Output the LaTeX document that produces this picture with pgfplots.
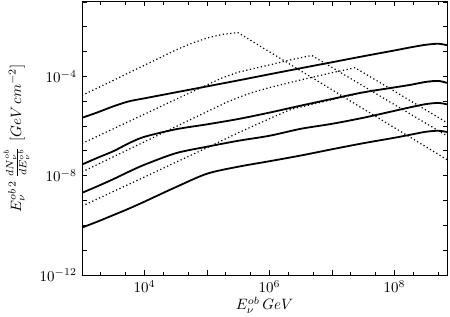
\documentclass[border=0pt]{standalone}
\usepackage{pgfplots}
\pgfplotsset{compat=1.18}
\usetikzlibrary{calc}
\pgfplotsset{
  solidc/.style={black, line width=1.2pt, no markers},
  dotc/.style={black, line width=0.8pt, dash pattern=on 0.8pt off 1.7pt, no markers}
}
\begin{document}
\begin{tikzpicture}
\begin{axis}[
  name=ax,
  scale only axis,
  width=243.3pt, height=182pt,
  xmode=log, ymode=log,
  xmin=1e3, xmax=6.918e8,
  ymin=1e-12, ymax=1e-1,
  xtick={1e3,1e4,1e5,1e6,1e7,1e8},
  xticklabels={,$10^{4}$,,$10^{6}$,,$10^{8}$},
  minor xtick={2e3,5e3,2e4,5e4,2e5,5e5,2e6,5e6,2e7,5e7,2e8,5e8},
  ytick={1e-12,1e-11,1e-10,1e-9,1e-8,1e-7,1e-6,1e-5,1e-4,1e-3,1e-2,1e-1},
  yticklabels={$10^{-12}$,,,,$10^{-8}$,,,,$10^{-4}$,,,},
  minor y tick style={draw=none},
  major tick length=3pt, minor tick length=1.8pt,
  tick style={black, line width=0.5pt},
  axis line style={line width=0.6pt},
  xlabel={$E_{\nu}^{ob}\,GeV$},
  xlabel style={yshift=4pt},
  ylabel={$E_{\nu}^{ob\,2}\,\frac{dN_{\nu}^{ob}}{dE_{\nu}^{ob}}\ [GeV\,cm^{-2}]$},
]
% dotted curves
\addplot[dotc] coordinates {(1e3,1.72e-5) (1.778e3,3.45e-5) (3.162e3,6.90e-5) (5.623e3,1.41e-4) (1e4,2.82e-4) (3.162e4,1.16e-3) (5.35e4,2.03e-3) (1e5,3.53e-3) (1.74e5,4.88e-3) (3.10e5,5.87e-3) (5.45e5,2.48e-3) (1e6,9.75e-4) (3.162e6,1.68e-4) (1e7,2.89e-5) (3.162e7,4.93e-6) (1e8,8.51e-7) (3.162e8,1.47e-7) (6.918e8,4.44e-8)};
\addplot[dotc] coordinates {(1e3,1.97e-7) (3.162e3,7.74e-7) (1e4,3.02e-6) (3.162e4,1.19e-5) (1e5,4.55e-5) (1.74e5,8.71e-5) (3.162e5,1.48e-4) (1e6,2.90e-4) (2.13e6,4.60e-4) (4.73e6,6.98e-4) (1e7,2.30e-4) (3.162e7,4.07e-5) (1e8,7.28e-6) (3.162e8,1.30e-6) (6.918e8,4.06e-7)};
\addplot[dotc] coordinates {(1e3,1.42e-8) (3.162e3,5.75e-8) (1e4,2.33e-7) (3.162e4,9.42e-7) (1e5,3.81e-6) (1.94e5,8.45e-6) (3.37e5,1.50e-5) (5.86e5,2.43e-5) (1e6,3.55e-5) (3.162e6,7.23e-5) (1e7,1.41e-4) (2.33e7,2.24e-4) (3.162e7,1.42e-4) (1e8,2.52e-5) (3.162e8,4.46e-6) (6.918e8,1.36e-6)};
\addplot[dotc] coordinates {(1e3,5.94e-10) (3.162e3,2.30e-9) (1e4,8.87e-9) (3.162e4,3.46e-8) (1e5,1.34e-7) (3.162e5,5.36e-7) (1e6,1.99e-6) (2.26e6,4.80e-6) (4.45e6,7.14e-6) (1e7,1.16e-5) (3.162e7,2.25e-5) (1e8,3.57e-5) (1.778e8,4.50e-5) (3.162e8,5.95e-5) (5.012e8,6.50e-5) (6.918e8,5.42e-5)};
% solid curves
\addplot[solidc, smooth] coordinates {(1e3,2.15e-6) (1.778e3,3.57e-6) (3.162e3,6.22e-6) (5.623e3,9.89e-6) (1e4,1.31e-5) (3.162e4,2.28e-5) (1e5,3.96e-5) (3.162e5,6.90e-5) (1e6,1.22e-4) (3.162e6,2.14e-4) (1e7,3.72e-4) (3.162e7,6.49e-4) (1e8,1.11e-3) (1.778e8,1.47e-3) (3.162e8,1.88e-3) (5.012e8,2.07e-3) (6.918e8,1.81e-3)};
\addplot[solidc, smooth] coordinates {(1e3,2.82e-8) (1.778e3,5.30e-8) (3.162e3,9.66e-8) (5.623e3,2.03e-7) (1e4,3.70e-7) (3.162e4,7.40e-7) (1e5,1.17e-6) (3.162e5,1.92e-6) (1e6,3.48e-6) (3.162e6,6.64e-6) (1e7,1.24e-5) (3.162e7,2.28e-5) (1e8,3.61e-5) (1.778e8,4.55e-5) (3.162e8,6.01e-5) (5.012e8,6.59e-5) (6.918e8,5.48e-5)};
\addplot[solidc, smooth] coordinates {(1e3,2.04e-9) (1.778e3,3.78e-9) (3.162e3,7.23e-9) (5.623e3,1.45e-8) (1e4,2.77e-8) (3.162e4,8.04e-8) (1e5,1.47e-7) (3.162e5,2.55e-7) (1e6,4.06e-7) (3.162e6,7.74e-7) (1e7,1.23e-6) (3.162e7,2.15e-6) (1e8,4.10e-6) (1.778e8,5.68e-6) (3.162e8,7.64e-6) (5.012e8,8.53e-6) (6.918e8,7.48e-6)};
\addplot[solidc, smooth] coordinates {(1e3,8.13e-11) (1.778e3,1.42e-10) (3.162e3,2.58e-10) (5.623e3,4.71e-10) (1e4,9.02e-10) (3.162e4,3.45e-9) (1e5,1.20e-8) (3.162e5,2.30e-8) (1e6,3.83e-8) (3.162e6,6.49e-8) (1e7,1.16e-7) (3.162e7,2.03e-7) (1e8,3.37e-7) (1.778e8,4.45e-7) (3.162e8,5.87e-7) (5.012e8,6.44e-7) (6.918e8,5.77e-7)};
\end{axis}
\pgfresetboundingbox
\path[use as bounding box] ($(ax.south west)+(-54.7pt,-28pt)$) rectangle ($(ax.north east)+(2pt,1.3pt)$);
\end{tikzpicture}
\end{document}
